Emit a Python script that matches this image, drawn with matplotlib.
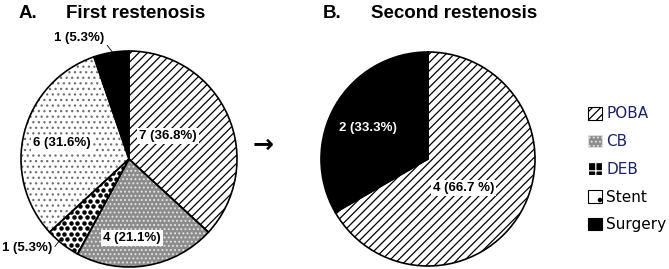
import numpy as np
import matplotlib
matplotlib.use("Agg")
import matplotlib.pyplot as plt
from matplotlib.patches import Patch

plt.rcParams['font.family'] = ['Liberation Sans', 'DejaVu Sans']
plt.rcParams['hatch.linewidth'] = 0.9

# ---- data ----
categories = ["POBA", "CB", "DEB", "Stent", "Surgery"]
first_counts = [7, 4, 1, 6, 1]
first_labels = ["7 (36.8%)", "4 (21.1%)", "1 (5.3%)", "6 (31.6%)", "1 (5.3%)"]
second_categories = ["POBA", "Surgery"]
second_counts = [4, 2]
second_labels = ["4 (66.7 %)", "2 (33.3%)"]
title_a = ("A.", "First restenosis")
title_b = ("B.", "Second restenosis")

# ---- styles ----
styles = {
    "POBA":    dict(face="white",   hatch="////", hcol="black"),
    "CB":      dict(face="#8c8c8c", hatch="....", hcol="#e2e2e2"),
    "DEB":     dict(face="white",   hatch=None,   hcol="black"),
    "Stent":   dict(face="white",   hatch="...",  hcol="#707070"),
    "Surgery": dict(face="black",   hatch=None,   hcol="black"),
}

W, H = 669, 269
fig = plt.figure(figsize=(W / 100, H / 100), dpi=100)


def pie_axes(cx, cy, r):
    return fig.add_axes([(cx - r) / W, (H - cy - r) / H, 2 * r / W, 2 * r / H])


def draw_pie(ax, cats, counts):
    faces = [styles[c]["face"] for c in cats]
    wedges, _ = ax.pie(counts, colors=faces, startangle=90, counterclock=False,
                       radius=1, wedgeprops=dict(linewidth=0, edgecolor="none"))
    for w, c in zip(wedges, cats):
        st = styles[c]
        if st["hatch"]:
            w.set_hatch(st["hatch"])
            w.set_edgecolor(st["hcol"])
            w.set_linewidth(0)
    ax.pie(counts, colors=["none"] * len(counts), startangle=90, counterclock=False,
           radius=1, wedgeprops=dict(linewidth=1.2, edgecolor="black", fill=False))
    ax.set_xlim(-1, 1)
    ax.set_ylim(-1, 1)
    ax.set_aspect("equal")
    ax.axis("off")
    return wedges


# ---- Pie A ----
axA = pie_axes(129, 159, 108)
wA = draw_pie(axA, categories, first_counts)

# DEB dotted texture (clipped to the DEB wedge)
deb = wA[categories.index("DEB")]
sx, sy = 0.060, 0.051
gx, gy = [], []
for j, yy in enumerate(np.arange(-1.05, 1.05, sy)):
    off = (sx / 2) if j % 2 else 0
    for xx in np.arange(-1.05, 1.05, sx):
        gx.append(xx + off)
        gy.append(yy)
sc = axA.scatter(gx, gy, s=10.5, color="black", linewidths=0, zorder=2)
sc.set_clip_path(deb)

lbl_kw = dict(ha="center", va="center", fontsize=9.5, fontweight="bold", zorder=5)
box = dict(boxstyle="square,pad=0.15", facecolor="white", edgecolor="none")

posA = {"POBA": (0.36, 0.21), "CB": (0.03, -0.73), "Stent": (-0.62, 0.15)}
for c, lab in zip(categories, first_labels):
    if c in posA:
        axA.text(*posA[c], lab, bbox=box, **lbl_kw)

# small slices with leader lines
axA.annotate(first_labels[4], xy=(-0.15, 0.985), xytext=(-0.46, 1.12),
             textcoords="data", annotation_clip=False,
             arrowprops=dict(arrowstyle="-", lw=0.6, color="black",
                             shrinkA=0, shrinkB=0, relpos=(1.0, 0.2)),
             **lbl_kw)
axA.annotate(first_labels[2], xy=(-0.63, -0.74), xytext=(-0.945, -0.82),
             textcoords="data", annotation_clip=False,
             arrowprops=dict(arrowstyle="-", lw=0.6, color="black",
                             shrinkA=0, shrinkB=0, relpos=(1.0, 0.3)),
             **lbl_kw)

# ---- Pie B ----
axB = pie_axes(428, 159, 107)
wB = draw_pie(axB, second_categories, second_counts)
axB.text(0.33, -0.27, second_labels[0], bbox=box, **lbl_kw)
axB.text(-0.56, 0.29, second_labels[1], color="white", **lbl_kw)

# ---- titles ----
tkw = dict(fontsize=13.5, fontweight="bold", va="center", ha="left")
fig.text(19 / W, 1 - 13 / H, title_a[0], **tkw)
fig.text(66 / W, 1 - 13 / H, title_a[1], **tkw)
fig.text(323 / W, 1 - 13 / H, title_b[0], **tkw)
fig.text(371 / W, 1 - 13 / H, title_b[1], **tkw)

# arrow between panels
fig.text(263 / W, 1 - 145 / H, "\u2192", fontsize=18, fontweight="bold",
         ha="center", va="center", family="DejaVu Sans")

# ---- legend ----
handles = [
    Patch(facecolor="white", edgecolor="black", hatch="////", linewidth=0.8),
    Patch(facecolor="#8c8c8c", edgecolor="#dddddd", hatch="....", linewidth=0.8),
    Patch(facecolor="black", edgecolor="white", hatch="++", linewidth=0.8),
    Patch(facecolor="white", edgecolor="black", hatch=".", linewidth=0.8),
    Patch(facecolor="black", edgecolor="black", linewidth=0.8),
]
leg = fig.legend(handles, categories, loc="upper left",
                 bbox_to_anchor=(588 / W, 1 - 106.5 / H), frameon=False,
                 prop=dict(family="DejaVu Sans", size=11),
                 handlelength=0.9, handleheight=0.9,
                 handletextpad=0.3, labelspacing=0.83, borderpad=0,
                 borderaxespad=0)
label_colors = ["#1c2466", "#1c2466", "#1c2466", "black", "black"]
for t, col in zip(leg.get_texts(), label_colors):
    t.set_color(col)

fig.savefig("out.png", dpi=100)
